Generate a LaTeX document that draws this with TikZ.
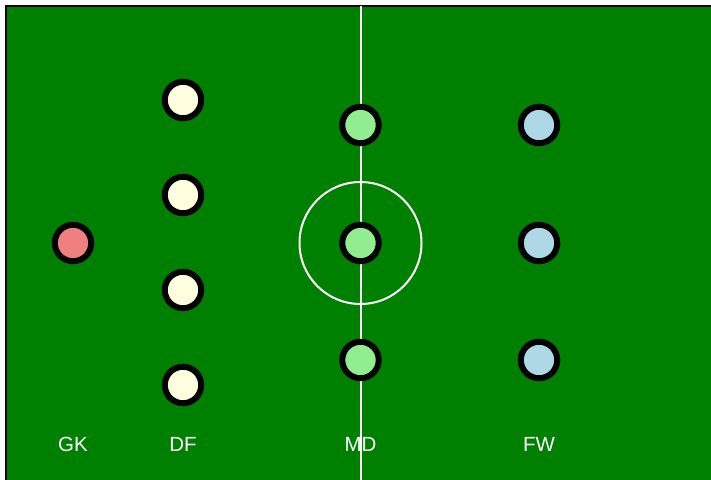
\documentclass[tikz,border=0pt]{standalone}
\usepackage{fontspec}
\setmainfont{Liberation Sans}
\usepackage{tikz}
\usetikzlibrary{positioning}
\usepackage{xcolor}
\definecolor{pitch}{RGB}{0,128,0}
\definecolor{gkcol}{RGB}{240,128,128}
\definecolor{dfcol}{RGB}{255,255,224}
\definecolor{mdcol}{RGB}{144,238,144}
\definecolor{fwcol}{RGB}{173,216,230}
\tikzset{
  plr/.style     ={draw, circle, minimum size=36.5pt, inner sep=0pt,
                   line width=6pt},
  gk/.style      ={plr, fill=gkcol},
  df/.style      ={plr, fill=dfcol},
  md/.style      ={plr, fill=mdcol},
  fw/.style      ={plr, fill=fwcol},
  pline/.style   ={white, line width=2pt},
  poslbl/.style  ={text=white, font=\fontsize{20.5}{24}\selectfont},
}

\begin{document}
\begin{tikzpicture}[x=1pt, y=-1pt]
  \useasboundingbox (0,0) rectangle (711,479);
  \clip (0,0) rectangle (711,479);
  % pitch, runs past the right and bottom edges
  \draw[fill=pitch, line width=1.5pt] (6,6) rectangle (740,500);
  \draw[pline] (360.5,6) -- (360.5,500);
  \draw[pline] (360.5,243) circle (61);
  % players
  \node[gk] (gk) at (73,243) {};
  \node[df] (df1) at (183,100) {};
  \node[df] (df2) at (183,195) {};
  \node[df] (df3) at (183,290) {};
  \node[df] (df4) at (183,385) {};
  \node[md] (md1) at (360.5,125) {};
  \node[md] (md2) at (360.5,243) {};
  \node[md] (md3) at (360.5,360) {};
  \node[fw] (fw1) at (539,125) {};
  \node[fw] (fw2) at (539,243) {};
  \node[fw] (fw3) at (539,360) {};
  % line labels
  \node[poslbl] (lgk) at (73,444) {GK};
  \node[poslbl] (ldf) at (183,444) {DF};
  \node[poslbl] (lmd) at (360.5,444) {MD};
  \node[poslbl] (lfw) at (539,444) {FW};
\end{tikzpicture}
\end{document}
